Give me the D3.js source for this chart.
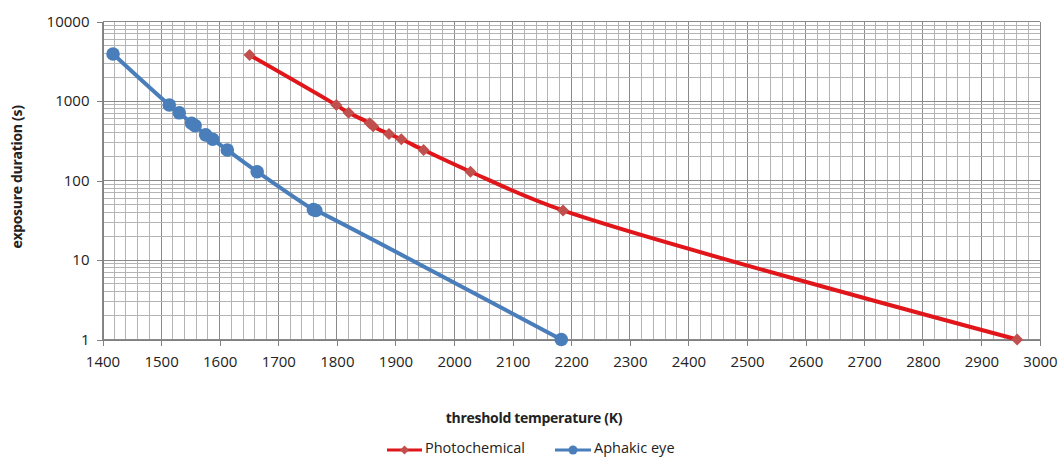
<!DOCTYPE html>
<html><head><meta charset="utf-8">
<script src="https://cdn.jsdelivr.net/npm/d3@7/dist/d3.min.js"></script>
<style>body{margin:0;background:#fff}svg{display:block}text{font-family:"Open Sans","Noto Sans",sans-serif;fill:#222}</style>
</head><body><svg id="c" width="1060" height="457"></svg>
<script>
// Data
const photoTemp = [1651, 1799, 1820, 1856, 1862, 1889, 1910, 1948, 2028, 2186, 2961];
const photoDur  = [3800, 890, 710, 525, 480, 385, 330, 242, 129, 42, 1];
const aphTemp   = [1418, 1514, 1531, 1552, 1558, 1576, 1588, 1613, 1664, 1760, 1764, 2183];
const aphDur    = [3900, 890, 710, 525, 490, 375, 330, 242, 129, 43, 42, 1];
const xTicks = [1400,1500,1600,1700,1800,1900,2000,2100,2200,2300,2400,2500,2600,2700,2800,2900,3000];
const yTicks = [1,10,100,1000,10000];
const seriesNames = ["Photochemical","Aphakic eye"];

const svg = d3.select("#c");
const L = 102.5, R = 1040, T = 21.5, B = 339.5;
const x = d3.scaleLinear().domain([1400,3000]).range([L,R]);
const y = d3.scaleLog().domain([1,10000]).range([B,T]);

const g = svg.append("g");
d3.range(1400,3001,20).forEach(v=>{
  const major = v%100===0;
  g.append("line").attr("x1",x(v)).attr("x2",x(v)).attr("y1",T).attr("y2",B)
   .attr("stroke", major?"#8a8a8a":"#b4b4b4").attr("stroke-width",1).attr("shape-rendering","crispEdges");
});
[1,10,100,1000].forEach(d=>{
  for(let k=1;k<=10;k++){
    const v=d*k; const major=(k===1||k===10);
    g.append("line").attr("x1",L).attr("x2",R).attr("y1",y(v)).attr("y2",y(v))
     .attr("stroke", major?"#8a8a8a":"#b4b4b4").attr("stroke-width",1).attr("shape-rendering","crispEdges");
  }
});

const xAxis = d3.axisBottom(x).tickValues(xTicks).tickSize(6).tickPadding(11).tickFormat(d3.format("d"));
const yAxis = d3.axisLeft(y).tickValues(yTicks).tickSize(6).tickPadding(7).tickFormat(d3.format("d"));
const gx = svg.append("g").attr("transform",`translate(0,${B})`).call(xAxis);
const gy = svg.append("g").attr("transform",`translate(${L},0)`).call(yAxis);
[gx,gy].forEach(a=>{
  a.select(".domain").attr("stroke","#808080").attr("shape-rendering","crispEdges");
  a.selectAll(".tick line").attr("stroke","#808080").attr("shape-rendering","crispEdges");
  a.selectAll(".tick text").attr("font-size",15).attr("font-family","'Open Sans',sans-serif").attr("fill","#222");
});

const line = d3.line().x(d=>x(d[0])).y(d=>y(d[1])).curve(d3.curveCatmullRom.alpha(0.5));
const photo = photoTemp.map((t,i)=>[t,photoDur[i]]);
const aph = aphTemp.map((t,i)=>[t,aphDur[i]]);
svg.append("path").attr("d",line(aph)).attr("fill","none").attr("stroke","#4a7ebb").attr("stroke-width",4);
svg.append("path").attr("d",line(photo)).attr("fill","none").attr("stroke","#e0161b").attr("stroke-width",4);

const diamond = d3.symbol().type(d3.symbolSquare).size(72);
svg.selectAll(".pc").data(photo).enter().append("path")
  .attr("transform",d=>`translate(${x(d[0])},${y(d[1])}) rotate(45)`).attr("d",diamond).attr("fill","#c0504d");
svg.selectAll(".ac").data(aph).enter().append("circle")
  .attr("cx",d=>x(d[0])).attr("cy",d=>y(d[1])).attr("r",6.8).attr("fill","#4a7ebb");

svg.append("text").attr("x",534).attr("y",423).attr("text-anchor","middle")
  .attr("font-size",14).attr("font-weight","bold").attr("letter-spacing","-0.3").text("threshold temperature (K)");
svg.append("text").attr("transform","translate(22,177) rotate(-90)").attr("text-anchor","middle")
  .attr("font-size",14).attr("font-weight","bold").attr("letter-spacing","-0.3").text("exposure duration (s)");

const lg = svg.append("g");
lg.append("line").attr("x1",387).attr("x2",422).attr("y1",450).attr("y2",450).attr("stroke","#e0161b").attr("stroke-width",3);
lg.append("path").attr("transform","translate(404.5,450) rotate(45)").attr("d",d3.symbol().type(d3.symbolSquare).size(40)).attr("fill","#c0504d");
lg.append("text").attr("x",425).attr("y",453).attr("font-size",14.5).text(seriesNames[0]);
lg.append("line").attr("x1",555).attr("x2",591).attr("y1",450).attr("y2",450).attr("stroke","#4a7ebb").attr("stroke-width",3);
lg.append("circle").attr("cx",573).attr("cy",450).attr("r",4.5).attr("fill","#4a7ebb");
lg.append("text").attr("x",594).attr("y",453).attr("font-size",14.5).text(seriesNames[1]);
</script></body></html>
